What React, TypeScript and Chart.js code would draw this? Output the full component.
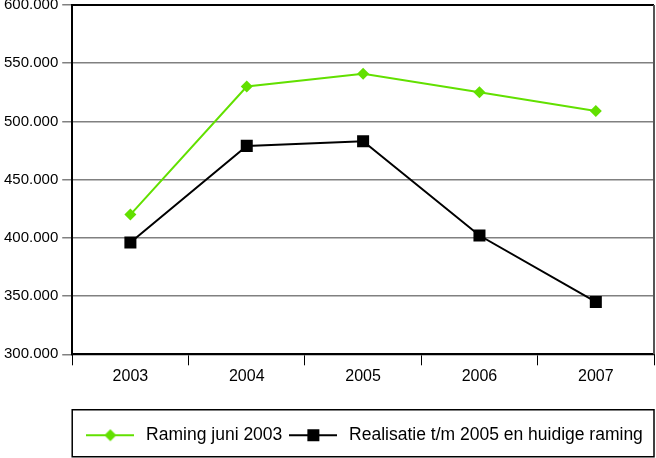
import React, { useEffect, useRef } from "react";
import { Chart, registerables } from "chart.js";

Chart.register(...registerables);

const years = ["2003", "2004", "2005", "2006", "2007"];
const ramingJuni2003 = [420000, 530000, 541000, 525000, 509000];
const realisatie = [396000, 479000, 483000, 402000, 345000];
const seriesLabels = ["Raming juni 2003", "Realisatie t/m 2005 en huidige raming"];
const yMin = 300000;
const yMax = 600000;
const yStep = 50000;

const GREEN = "#62e000";
const FONT = "'Liberation Sans', Arial, sans-serif";

function fmt(v: number): string {
  const s = Math.round(v).toString();
  return s.replace(/\B(?=(\d{3})+(?!\d))/g, ".");
}

function makeIcon(color: string, shape: string): HTMLCanvasElement {
  const c = document.createElement("canvas");
  c.width = 48;
  c.height = 14;
  const ctx = c.getContext("2d")!;
  ctx.strokeStyle = color;
  ctx.lineWidth = 2;
  ctx.beginPath();
  ctx.moveTo(0, 7);
  ctx.lineTo(48, 7);
  ctx.stroke();
  ctx.fillStyle = color;
  if (shape === "diamond") {
    ctx.beginPath();
    ctx.moveTo(18, 7);
    ctx.lineTo(24, 1);
    ctx.lineTo(30, 7);
    ctx.lineTo(24, 13);
    ctx.closePath();
    ctx.fill();
  } else {
    ctx.fillRect(18, 1, 12, 12);
  }
  return c;
}

const frame = {
  id: "frame",
  beforeDraw(chart: any) {
    const lg = chart.legend;
    const a = chart.chartArea;
    if (lg) {
      lg.left = a.left;
      lg.right = a.right;
      lg.width = a.right - a.left;
    }
  },
  afterDraw(chart: any) {
    const ctx = chart.ctx;
    const a = chart.chartArea;
    ctx.save();
    ctx.strokeStyle = "#000";
    ctx.lineWidth = 2;
    ctx.beginPath();
    ctx.moveTo(a.left, a.top);
    ctx.lineTo(a.right, a.top);
    ctx.stroke();
    ctx.strokeStyle = "#555";
    ctx.beginPath();
    ctx.moveTo(a.right, a.top);
    ctx.lineTo(a.right, a.bottom);
    ctx.stroke();
    const lg = chart.legend;
    if (lg && lg.legendHitBoxes && lg.legendHitBoxes.length) {
      const hb = lg.legendHitBoxes[0];
      const cy = hb.top + hb.height / 2;
      ctx.strokeStyle = "#000";
      ctx.lineWidth = 1.5;
      ctx.strokeRect(a.left, cy - 25.5, a.right - a.left, 47);
    }
    ctx.restore();
  },
};

export default function App() {
  const ref = useRef<HTMLCanvasElement>(null);
  useEffect(() => {
    document.body.style.margin = "0";
    const icons = [makeIcon(GREEN, "diamond"), makeIcon("#000", "square")];
    const chart = new Chart(ref.current!, {
      type: "line",
      data: {
        labels: years,
        datasets: [
          {
            label: seriesLabels[0],
            data: ramingJuni2003,
            borderColor: GREEN,
            backgroundColor: GREEN,
            borderWidth: 2,
            pointStyle: "rectRot",
            pointRadius: 6,
            pointBorderWidth: 0,
            tension: 0,
          },
          {
            label: seriesLabels[1],
            data: realisatie,
            borderColor: "#000",
            backgroundColor: "#000",
            borderWidth: 2,
            pointStyle: "rect",
            pointRadius: 8.5,
            pointBorderWidth: 0,
            tension: 0,
          },
        ],
      },
      options: {
        responsive: false,
        animation: false,
        devicePixelRatio: 1,
        layout: { autoPadding: false, padding: { left: 0, right: 2, top: 5, bottom: 4 } },
        plugins: {
          tooltip: { enabled: false },
          legend: {
            position: "bottom",
            labels: {
              usePointStyle: true,
              pointStyleWidth: 54,
              padding: 4,
              color: "#000",
              font: { family: FONT, size: 17.5 },
              generateLabels: (ch: any) =>
                ch.data.datasets.map((ds: any, i: number) => ({
                  text: ds.label,
                  pointStyle: icons[i],
                  fillStyle: ds.borderColor,
                  strokeStyle: ds.borderColor,
                  lineWidth: 0,
                  hidden: false,
                  datasetIndex: i,
                })),
            },
          },
        },
        scales: {
          x: {
            offset: true,
            border: { color: "#000", width: 2 },
            grid: {
              offset: true,
              drawOnChartArea: false,
              tickLength: 11,
              tickColor: "#000",
            },
            ticks: { color: "#000", padding: 2, font: { family: FONT, size: 16 } },
            afterFit: (scale: any) => {
              scale.height += 34;
              scale.paddingLeft = 0;
              scale.paddingRight = 0;
            },
          },
          y: {
            min: yMin,
            max: yMax,
            border: { color: "#000", width: 2 },
            grid: { color: "#808080", lineWidth: 1.5, tickLength: 10, tickColor: "#808080" },
            ticks: {
              stepSize: yStep,
              color: "#000",
              padding: 4,
              font: { family: FONT, size: 15 },
              callback: (v: any) => fmt(Number(v)),
            },
            afterFit: (scale: any) => {
              scale.paddingTop = 0;
              scale.paddingBottom = 0;
            },
          },
        },
      },
      plugins: [frame],
    });
    return () => chart.destroy();
  }, []);
  return (
    <div style={{ position: "fixed", left: 0, top: 0, width: 656, height: 458 }}>
      <canvas ref={ref} width={656} height={458} />
    </div>
  );
}
